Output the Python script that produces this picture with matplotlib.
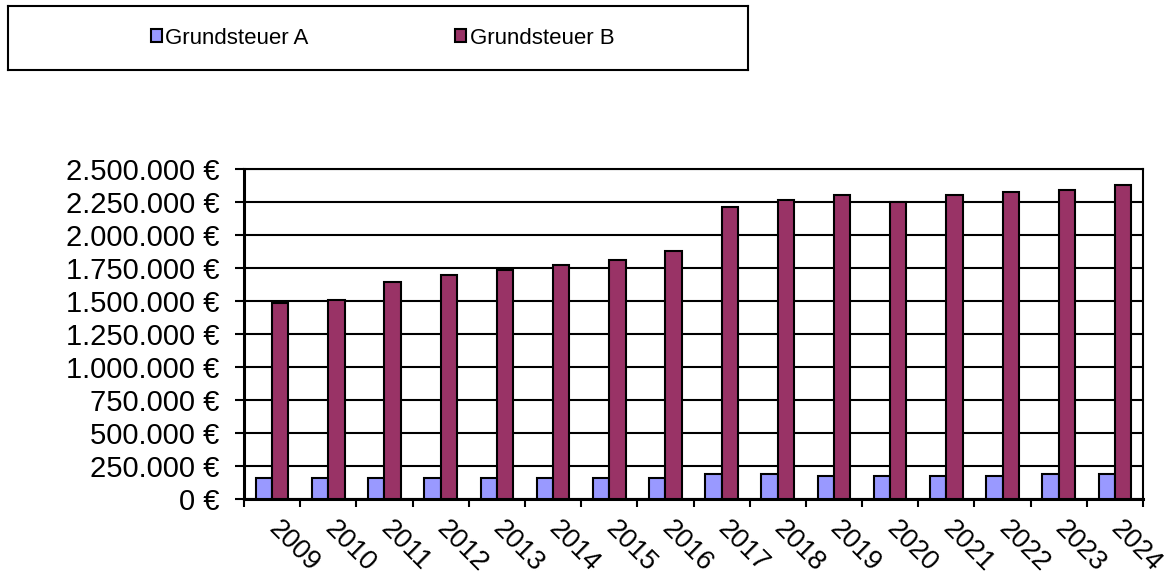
import matplotlib
matplotlib.use("Agg")
import matplotlib.pyplot as plt
import numpy as np
from matplotlib.patches import Patch
from matplotlib.ticker import FuncFormatter, MultipleLocator

plt.rcParams['font.family'] = ['Liberation Sans', 'DejaVu Sans']

years = ["2009", "2010", "2011", "2012", "2013", "2014", "2015", "2016",
         "2017", "2018", "2019", "2020", "2021", "2022", "2023", "2024"]
grundsteuer_a = [157000, 157000, 157000, 157000, 157000, 157000, 157000, 157000,
                 192000, 192000, 174000, 174000, 174000, 174000, 192000, 192000]
grundsteuer_b = [1482000, 1505000, 1646000, 1699000, 1735000, 1770000, 1808000, 1879000,
                 2215000, 2268000, 2306000, 2253000, 2306000, 2323000, 2341000, 2376000]

color_a = "#9999FF"
color_b = "#993366"

fig = plt.figure(figsize=(11.73, 5.81), dpi=100)
ax = fig.add_axes([244/1173, 1-499/581, (1143-244)/1173, (499-169)/581])

x = np.arange(len(years))
w = 0.29
ax.bar(x - w/2, grundsteuer_a, width=w, color=color_a, edgecolor="black", linewidth=1.5, zorder=3)
ax.bar(x + w/2, grundsteuer_b, width=w, color=color_b, edgecolor="black", linewidth=1.5, zorder=3)

ax.set_xlim(-0.5, len(years) - 0.5)
ax.set_ylim(0, 2500000)
ax.yaxis.set_major_locator(MultipleLocator(250000))
ax.yaxis.set_major_formatter(FuncFormatter(lambda v, p: f"{int(round(v)):,}".replace(",", ".") + " €"))
ax.grid(axis="y", color="black", linewidth=1.5, zorder=0)

ax.set_xticks(np.arange(len(years) + 1) - 0.5)
ax.set_xticklabels([])
ax.tick_params(axis="x", which="major", length=6, width=1.5, direction="out")
ax.set_xticks(x, minor=True)
ax.set_xticklabels(years, minor=True, rotation=-45, ha="left", va="center",
                   rotation_mode="anchor", fontsize=19.5)
ax.tick_params(axis="x", which="minor", length=0, pad=19)
ax.tick_params(axis="y", length=6.5, width=1.5, direction="out", labelsize=21, pad=11)

for s in ax.spines.values():
    s.set_linewidth(1.5)
    s.set_color("black")
ax.spines["left"].set_linewidth(2.2)
ax.spines["bottom"].set_linewidth(2.2)

handles = [Patch(facecolor=color_a, edgecolor="black", linewidth=1.5, label="Grundsteuer A"),
           Patch(facecolor=color_b, edgecolor="black", linewidth=1.5, label="Grundsteuer B")]
leg_ax = fig.add_axes([8/1173, 1-70/581, (748-8)/1173, (70-6)/581])
leg_ax.set_xticks([]); leg_ax.set_yticks([])
for s in leg_ax.spines.values():
    s.set_linewidth(1.5)
leg = leg_ax.legend(handles=handles, loc="center", ncol=2, frameon=False, fontsize=16,
                    handlelength=0.5, handleheight=0.5, handletextpad=0.15, columnspacing=6.6,
                    bbox_to_anchor=(0.506, 0.5))

fig.savefig("out.png", dpi=100)
